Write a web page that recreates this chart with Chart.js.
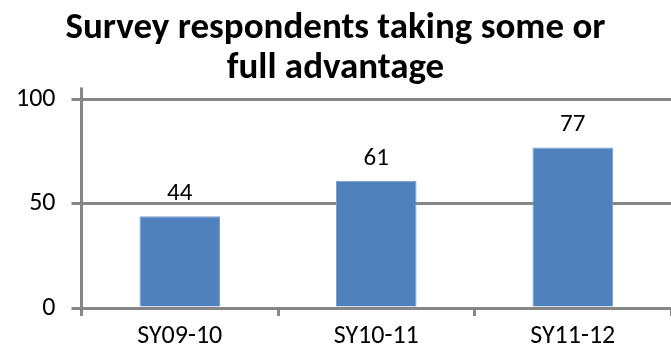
<!DOCTYPE html>
<html>
<head>
<meta charset="utf-8">
<script src="https://cdn.jsdelivr.net/npm/chart.js@4/dist/chart.umd.min.js"></script>
<style>
  html, body { margin: 0; padding: 0; background: #fff; }
  #wrap { width: 671px; height: 356px; }
</style>
</head>
<body>
<div id="wrap"><canvas id="chart" width="671" height="356"></canvas></div>
<script>
// Values
const categories = ['SY09-10', 'SY10-11', 'SY11-12'];
const respondents = [44, 61, 77];
const yTicks = [0, 50, 100];
const titleLines = ['Survey respondents taking some or', 'full advantage'];

const FONT = 'Carlito, "Liberation Sans Narrow", "Open Sans", sans-serif';
const GRID = '#868686';

// value labels above each bar
const valueLabels = {
  id: 'valueLabels',
  afterDatasetsDraw(chart) {
    const { ctx } = chart;
    const meta = chart.getDatasetMeta(0);
    ctx.save();
    ctx.font = '25px ' + FONT;
    ctx.fillStyle = '#000';
    ctx.textAlign = 'center';
    ctx.textBaseline = 'alphabetic';
    meta.data.forEach((bar, i) => {
      ctx.fillText(String(respondents[i]), bar.x, bar.y - 16);
    });
    ctx.restore();
  }
};

// the y axis line runs a little above the top gridline
const axisStub = {
  id: 'axisStub',
  afterDraw(chart) {
    const { ctx, chartArea } = chart;
    ctx.save();
    ctx.strokeStyle = GRID;
    ctx.lineWidth = 3;
    ctx.beginPath();
    ctx.moveTo(chartArea.left, chartArea.top);
    ctx.lineTo(chartArea.left, chartArea.top - 12);
    ctx.stroke();
    ctx.restore();
  }
};

new Chart(document.getElementById('chart').getContext('2d'), {
  type: 'bar',
  data: {
    labels: categories,
    datasets: [{
      data: respondents,
      backgroundColor: '#4F81BD',
      borderColor: '#7a9fd0',
      borderWidth: 1,
      categoryPercentage: 1,
      barPercentage: 0.41,
    }],
  },
  options: {
    responsive: false,
    animation: false,
    layout: { padding: { top: 2, right: 0, left: 0, bottom: 0 } },
    plugins: {
      legend: { display: false },
      tooltip: { enabled: false },
      title: {
        display: true,
        text: titleLines,
        color: '#000',
        font: { family: FONT, size: 37, weight: 'bold', lineHeight: 1.1 },
        padding: { top: 6, bottom: 10 },
      },
    },
    scales: {
      x: {
        grid: { display: true, drawOnChartArea: false, color: GRID, lineWidth: 3, tickLength: 8, offset: true },
        border: { color: GRID, width: 3 },
        ticks: { color: '#000', font: { family: FONT, size: 26, lineHeight: 1 }, padding: 7 },
      },
      y: {
        min: 0,
        max: 100,
        afterBuildTicks: axis => { axis.ticks = yTicks.map(v => ({ value: v })); },
        grid: { color: GRID, lineWidth: 3, tickLength: 10 },
        border: { color: GRID, width: 3 },
        ticks: { color: '#000', font: { family: FONT, size: 26 }, padding: 16 },
      },
    },
  },
  plugins: [valueLabels, axisStub],
});
</script>
</body>
</html>
